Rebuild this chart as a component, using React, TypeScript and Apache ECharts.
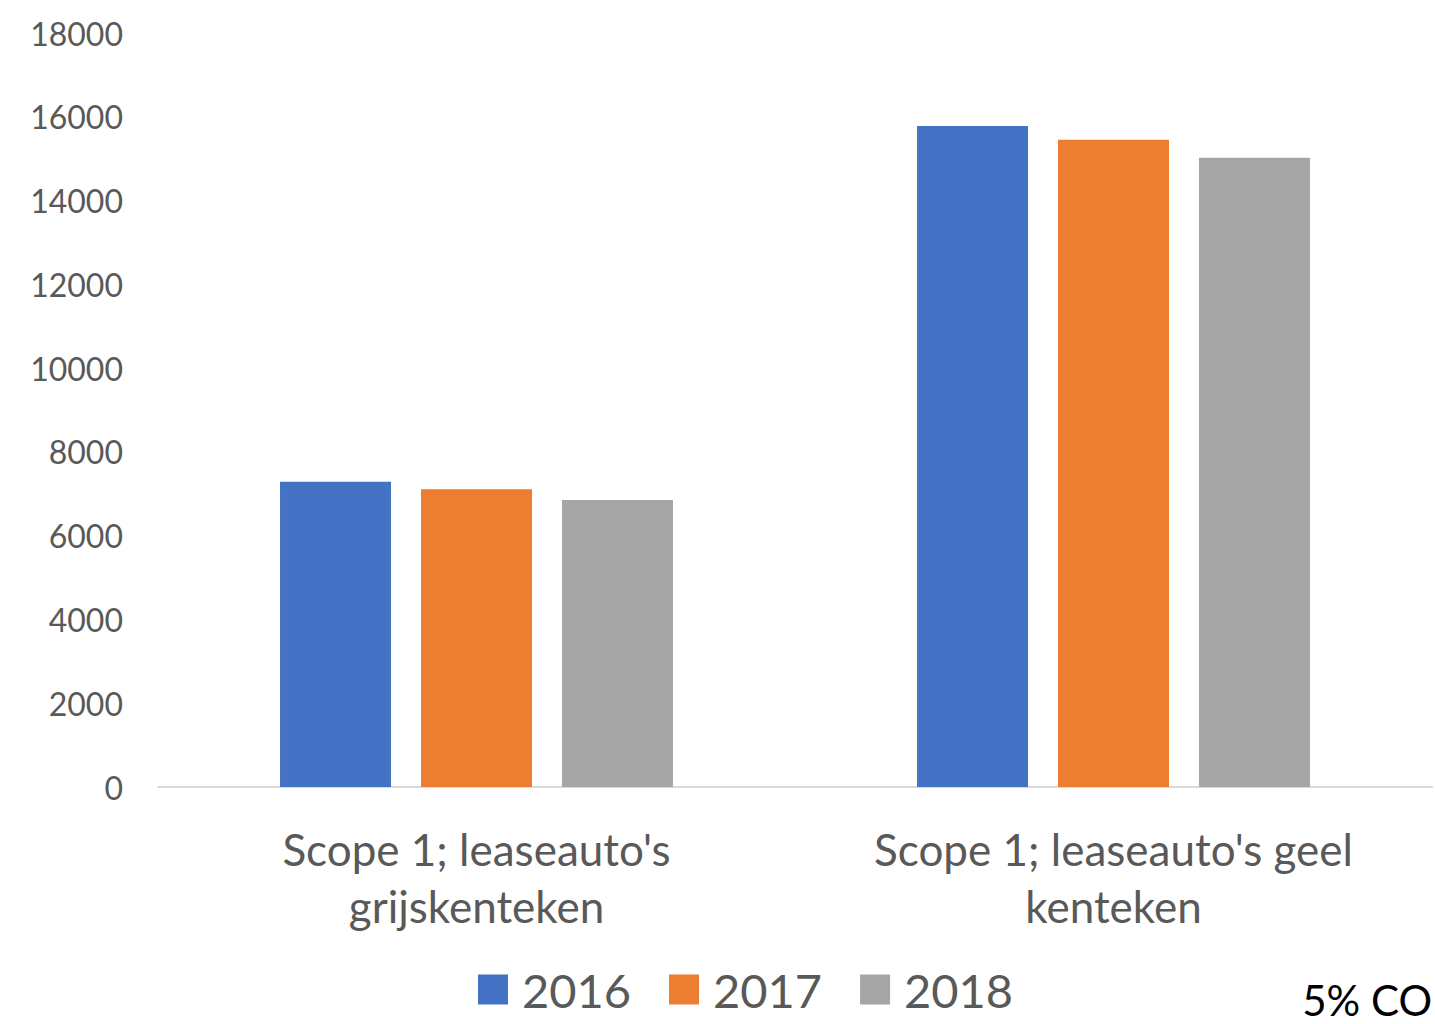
import React, { useEffect, useRef } from "react";
import * as echarts from "echarts";

const categories = ["Scope 1; leaseauto's\ngrijskenteken", "Scope 1; leaseauto's geel\nkenteken"];
const seriesNames = ["2016", "2017", "2018"];
const values2016 = [7290, 15780];
const values2017 = [7110, 15450];
const values2018 = [6850, 15020];
const colors = ["#4472C4", "#ED7D31", "#A5A5A5"];
const yMax = 18000;
const yInterval = 2000;

const FONT = "Lato";

export default function App() {
  const ref = useRef<HTMLDivElement>(null);
  useEffect(() => {
    if (!ref.current) return;
    const chart = echarts.init(ref.current, null, { renderer: "svg" });
    const data = [values2016, values2017, values2018];
    chart.setOption({
      animation: false,
      backgroundColor: "#ffffff",
      grid: { left: 158, right: 3, top: 33, bottom: 237, containLabel: false },
      legend: {
        data: seriesNames,
        bottom: 6,
        left: 473,
        itemWidth: 30,
        itemHeight: 30,
        itemGap: 38,
        icon: "rect",
        textStyle: { fontFamily: FONT, fontSize: 47, color: "#595959", padding: [0, 0, 0, 9] },
      },
      xAxis: {
        type: "category",
        data: categories,
        axisLine: { lineStyle: { color: "#D9D9D9", width: 2 } },
        axisTick: { show: false },
        axisLabel: {
          fontFamily: FONT,
          fontSize: 44,
          color: "#595959",
          lineHeight: 57,
          margin: 33,
          interval: 0,
        },
      },
      yAxis: {
        type: "value",
        min: 0,
        max: yMax,
        interval: yInterval,
        splitLine: { show: false },
        axisLine: { show: false },
        axisTick: { show: false },
        axisLabel: {
          fontFamily: FONT,
          fontSize: 32,
          color: "#595959",
          margin: 35,
          formatter: (v: number) => String(v),
        },
      },
      series: seriesNames.map((name, i) => ({
        name,
        type: "bar",
        data: data[i],
        barWidth: 111,
        barGap: "27%",
        itemStyle: { color: colors[i] },
      })),
      graphic: [
        {
          type: "text",
          right: 3,
          top: 979,
          style: { text: "5% CO", fontFamily: FONT, fontSize: 42, fill: "#000000" },
        },
      ],
    });
    return () => chart.dispose();
  }, []);
  return (
    <div
      ref={ref}
      style={{ position: "fixed", left: 0, top: 0, width: 1435, height: 1024 }}
    />
  );
}
